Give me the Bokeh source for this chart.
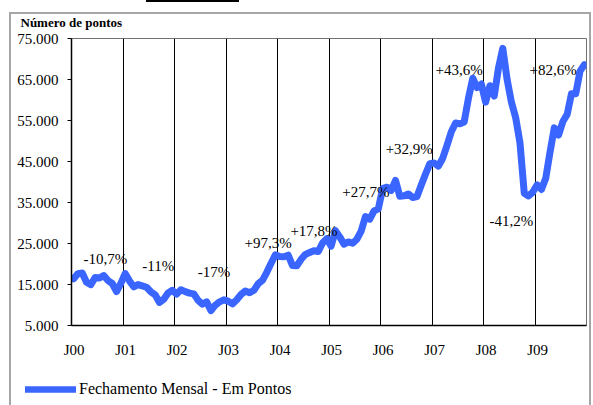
import numpy as np
from bokeh.plotting import figure
from bokeh.layouts import column
from bokeh.models import (Range1d, FixedTicker, Label, Legend, LegendItem,
                          ColumnDataSource, Title)
from bokeh.embed import file_html
from bokeh.resources import INLINE

# ---- data (monthly closes, points) ----
ibov_2000 = [16388, 17660, 17820, 15538, 14957, 16727, 16573, 17190, 15946, 15248, 13290, 15259]
ibov_2001 = [17672, 15891, 14438, 14973, 14649, 14329, 13214, 12476, 10632, 11424, 12932, 13577]
ibov_2002 = [12650, 13734, 13268, 12904, 12725, 11139, 10196, 10754, 8623, 9951, 10766, 11268]
ibov_2003 = [10941, 10280, 11273, 12556, 13421, 12972, 13577, 15175, 16010, 17982, 20183, 22236]
ibov_2004 = [21851, 21755, 22142, 19607, 19545, 21149, 22337, 22803, 23245, 23052, 25128, 26196]
ibov_2005 = [24351, 28139, 26610, 24843, 25387, 25051, 26042, 28043, 31583, 30941, 32945, 33455]
ibov_2006 = [38382, 38744, 37952, 40365, 36530, 36631, 37077, 36232, 36449, 39262, 41932, 44473]
ibov_2007 = [44641, 43892, 45804, 48956, 52268, 54392, 54182, 54637, 60465, 65317, 63006, 63886]
ibov_2008 = [59490, 63489, 60968, 67868, 72593, 65017, 59505, 55680, 49541, 37257, 36596, 37550]
ibov_2009 = [39301, 38183, 40926, 47290, 53198, 51465, 54766, 56489, 61518, 61546, 67044, 68588]

year_labels = ["J00", "J01", "J02", "J03", "J04", "J05", "J06", "J07", "J08", "J09"]
y_ticks = [5000, 15000, 25000, 35000, 45000, 55000, 65000, 75000]
pct_labels = ["-10,7%", "-11%", "-17%", "+97,3%", "+17,8%",
              "+27,7%", "+32,9%", "+43,6%", "-41,2%", "+82,6%"]
series_name = "Fechamento Mensal - Em Pontos"
y_title = "Número de pontos"

closes = (ibov_2000 + ibov_2001 + ibov_2002 + ibov_2003 + ibov_2004 +
          ibov_2005 + ibov_2006 + ibov_2007 + ibov_2008 + ibov_2009)
months = np.arange(len(closes)) + 0.5
src = ColumnDataSource(dict(x=months, y=closes))

FONT = "Liberation Serif"
BLUE = "#3a66ff"
G = "#a6a6a6"


def no_align(fig):
    if "frame_align" in fig.properties():
        fig.frame_align = False


# ---------------- main chart ----------------
p = figure(width=582, height=370, output_backend="svg", toolbar_location=None,
           title=None, x_range=Range1d(0, 120), y_range=Range1d(5000, 75000),
           min_border_left=62, min_border_right=5, min_border_top=38,
           min_border_bottom=45)
no_align(p)
p.background_fill_color = "white"
p.border_fill_color = None
p.outline_line_color = "#707070"
p.outline_line_width = 1

line = p.line("x", "y", source=src, line_color=BLUE, line_width=7,
              line_join="round", line_cap="round")

p.xaxis.ticker = FixedTicker(ticks=[12 * i + 0.6 for i in range(len(year_labels))])
p.xaxis.major_label_overrides = {12 * i + 0.6: lab for i, lab in enumerate(year_labels)}
p.xaxis.major_tick_out = 0
p.xaxis.major_tick_in = 0
p.xaxis.minor_tick_out = 0
p.xaxis.minor_tick_in = 0
p.xaxis.major_label_standoff = 16
p.yaxis.ticker = FixedTicker(ticks=y_ticks)
p.yaxis.major_label_overrides = {v: f"{v:,}".replace(",", ".") for v in y_ticks}
p.yaxis.major_tick_out = 4
p.yaxis.major_tick_in = 0
p.yaxis.minor_tick_out = 0
p.yaxis.minor_tick_in = 0
p.yaxis.major_label_standoff = 9
for ax in (p.xaxis[0], p.yaxis[0]):
    ax.axis_line_color = "black"
    ax.axis_line_width = 1.5
    ax.major_tick_line_color = "black"
    ax.major_label_text_font = FONT
    ax.major_label_text_font_size = "15px"
    ax.major_label_text_color = "black"

p.ygrid.grid_line_color = None
p.xgrid.ticker = FixedTicker(ticks=[12 * i for i in range(1, 10)])
p.xgrid.grid_line_color = "black"
p.xgrid.grid_line_width = 1

p.add_layout(Title(text=y_title, align="left", offset=-51, standoff=18,
                   text_font=FONT, text_font_size="13px", text_font_style="bold",
                   text_color="black"), "above")

pct_pos = [(2.8, 21340), (16.5, 19630), (29.4, 18170), (40.3, 25240), (51.0, 28170),
           (63.1, 37440), (73.2, 47930), (84.8, 67200), (97.4, 30370), (106.7, 67200)]
for txt, (px, py) in zip(pct_labels, pct_pos):
    p.add_layout(Label(x=px, y=py, text=txt, text_font=FONT, text_font_size="15px",
                       text_baseline="middle", text_align="left", text_color="black"))

# ---------------- legend strip ----------------
lg = figure(width=582, height=35, output_backend="svg", toolbar_location=None,
            title=None, x_range=Range1d(-20, -10), y_range=Range1d(-20, -10),
            x_axis_type=None, y_axis_type=None,
            min_border_left=16, min_border_right=0, min_border_top=9,
            min_border_bottom=0)
no_align(lg)
lg.outline_line_color = None
lg.background_fill_color = None
lg.border_fill_color = None
lg.grid.visible = False
key = lg.line("x", "y", source=src, line_color=BLUE, line_width=6.5,
              line_cap="round", line_join="round")
legend = Legend(items=[LegendItem(label=series_name, renderers=[key])],
                location="top_left", orientation="horizontal",
                glyph_width=51, glyph_height=20, label_standoff=3,
                padding=0, margin=0, spacing=0,
                border_line_color=None, background_fill_alpha=0,
                label_text_font=FONT, label_text_font_size="16px",
                label_text_color="black")
lg.add_layout(legend)

# outer gray frame (left, top and right sides) and the black title rule,
# drawn as box backgrounds behind the transparent canvases
frame_bg = ("linear-gradient(#000,#000) no-repeat left 137px top 0px / 93px 2px, "
            f"linear-gradient({G},{G}) no-repeat left 0px top 12px / 2px 100%, "
            f"linear-gradient({G},{G}) no-repeat left 0px top 12px / 100% 2px, "
            f"linear-gradient({G},{G}) no-repeat right 0px top 12px / 2px 100%")
layout = column(p, lg, spacing=0,
                styles={"margin-left": "9px", "background": frame_bg})
open("out.html", "w").write(file_html(layout, INLINE))
